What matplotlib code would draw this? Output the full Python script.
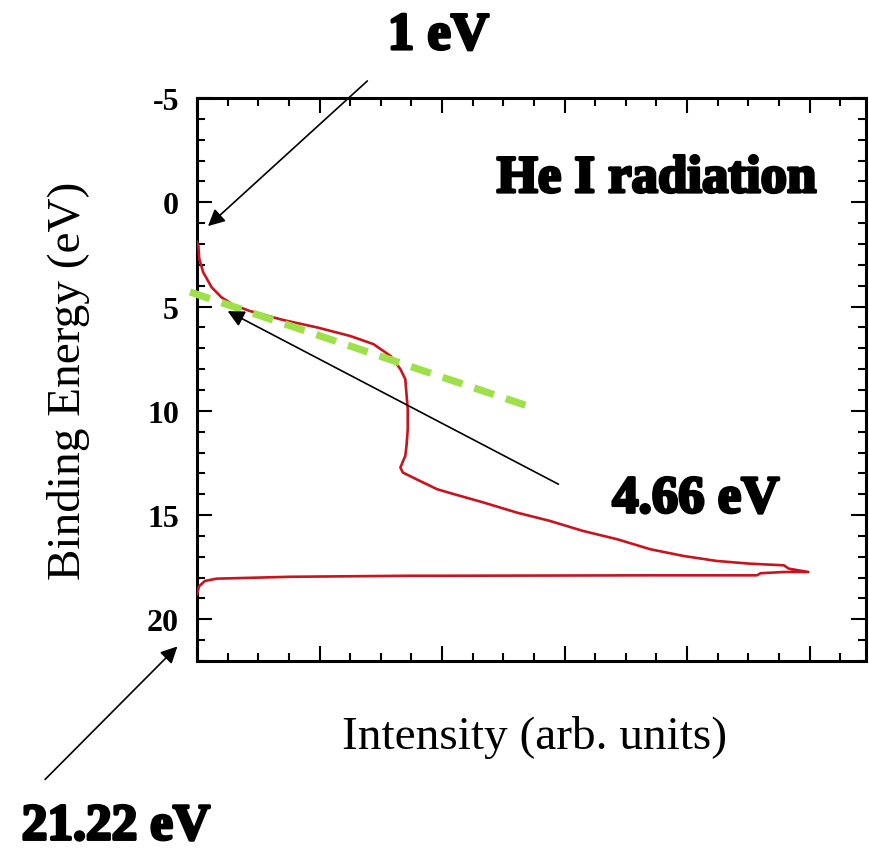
import matplotlib
matplotlib.use('Agg')
import matplotlib.pyplot as plt
import matplotlib.patheffects as pe
from matplotlib.ticker import MultipleLocator, NullFormatter

# He I UPS spectrum: intensity (arb. units) vs binding energy (eV)
intensity = [0.0, 0.011, 0.019, 0.051, 0.12, 0.20, 0.30, 0.43, 0.70, 0.98,
             1.25, 1.44, 1.58, 1.66, 1.70, 1.72, 1.72, 1.71, 1.70, 1.66,
             1.68, 1.79, 1.96, 2.07, 2.34, 2.61, 2.88, 3.15, 3.43, 3.70,
             3.97, 4.24, 4.51, 4.79, 4.83, 4.99, 4.79, 4.60, 4.57, 3.70,
             2.07, 1.74, 0.76, 0.16, 0.065, 0.016, 0.0]
binding_energy = [1.9, 2.09, 2.73, 3.36, 4.08, 4.56, 4.93, 5.21, 5.64, 6.00,
                  6.41, 6.80, 7.37, 8.00, 8.48, 9.92, 10.88, 11.68, 12.16, 12.72,
                  12.96, 13.28, 13.76, 13.95, 14.40, 14.88, 15.28, 15.76, 16.16, 16.64,
                  16.96, 17.20, 17.33, 17.41, 17.57, 17.73, 17.73, 17.79, 17.89, 17.89,
                  17.91, 17.91, 17.96, 18.05, 18.16, 18.42, 18.80]

# linear fit of the valence band edge
fit_x = [-0.057, 2.68]
fit_y = [4.30, 9.73]

# arrows: (tip, tail) in data coordinates
arrow_1ev = ((0.09, 1.14), (1.39, -5.82))
arrow_466 = ((0.25, 5.22), (2.95, 13.52))
arrow_2122 = ((-0.16, 21.30), (-1.24, 27.68))

plt.rcParams['font.family'] = ['Liberation Serif', 'DejaVu Serif']
plt.rcParams['axes.unicode_minus'] = False
plt.rcParams['lines.scale_dashes'] = False

fig = plt.figure(figsize=(8.69, 8.54), dpi=100)
ax = fig.add_axes([0.2267, 0.2248, 0.7698, 0.6592])

ax.plot(intensity, binding_energy, color='#c8141e', lw=1.9, zorder=3)
ax.plot(fit_x, fit_y, color='#9ee04a', lw=5.2, dashes=(15, 9),
        solid_capstyle='butt', clip_on=False, zorder=4)

ax.set_xlim(0, 5.46)
ax.set_ylim(22, -5)

ax.xaxis.set_major_locator(MultipleLocator(1))
ax.xaxis.set_minor_locator(MultipleLocator(0.25))
ax.xaxis.set_major_formatter(NullFormatter())
ax.yaxis.set_major_locator(MultipleLocator(5))
ax.yaxis.set_minor_locator(MultipleLocator(1))

ax.tick_params(which='both', direction='in', top=True, right=True, width=1.5)
ax.tick_params(which='major', length=11, labelsize=23, pad=13)
ax.tick_params(which='minor', length=6)
for lab in ax.get_yticklabels():
    lab.set_fontweight('bold')
for sp in ax.spines.values():
    sp.set_linewidth(2.2)

ax.set_ylabel('Binding Energy (eV)', fontsize=34)
ax.yaxis.set_label_coords(-0.16, 0.5)
ax.set_xlabel('Intensity (arb. units)', fontsize=34)
ax.xaxis.set_label_coords(0.504, -0.095)

arrow_props = dict(arrowstyle='-|>', color='black', lw=1.2,
                   mutation_scale=25, shrinkA=0, shrinkB=0)
for tip, tail in (arrow_1ev, arrow_466, arrow_2122):
    ax.annotate('', xy=tip, xytext=tail, arrowprops=arrow_props,
                annotation_clip=False, zorder=5)

heavy = [pe.withStroke(linewidth=2.2, foreground='black')]
label_kw = dict(fontsize=38, fontweight='bold', ha='center', va='baseline',
                clip_on=False, path_effects=heavy)
ax.text(1.97, -7.35, '1 eV', **label_kw)
ax.text(3.75, -0.49, 'He I radiation', **label_kw)
ax.text(4.07, 14.87, '4.66 eV', **label_kw)
# bottom-left label sits on the figure's lower edge
fig.text(116 / 869, 0.003, '21.22 eV', fontsize=37, fontweight='bold',
         ha='center', va='bottom', path_effects=heavy)

fig.savefig('out.png', dpi=100)
